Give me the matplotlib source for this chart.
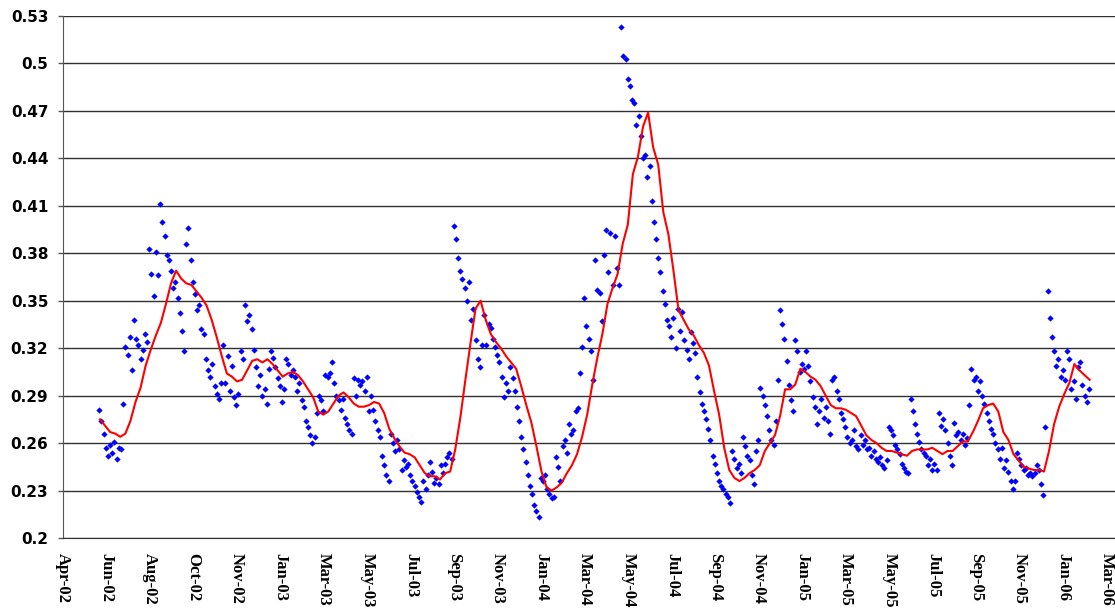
import pandas as pd
import matplotlib
matplotlib.use("Agg")
import matplotlib.pyplot as plt
import matplotlib.dates as mdates

# observations every 3 days, starting 24 May 2002
obs_start = "2002-05-24"
obs_values = [
    0.281, 0.274, 0.266, 0.257, 0.252, 0.259, 0.254, 0.261, 0.250, 0.257,
    0.256, 0.285, 0.321, 0.316, 0.327, 0.306, 0.338, 0.326, 0.322, 0.313,
    0.319, 0.329, 0.324, 0.383, 0.367, 0.353, 0.381, 0.366, 0.411, 0.400,
    0.391, 0.379, 0.376, 0.369, 0.358, 0.362, 0.352, 0.342, 0.331, 0.318,
    0.386, 0.396, 0.376, 0.362, 0.354, 0.344, 0.347, 0.332, 0.329, 0.313,
    0.306, 0.302, 0.310, 0.296, 0.291, 0.288, 0.298, 0.322, 0.298, 0.315,
    0.293, 0.309, 0.289, 0.284, 0.291, 0.318, 0.313, 0.347, 0.337, 0.341,
    0.332, 0.319, 0.308, 0.296, 0.303, 0.290, 0.294, 0.285, 0.307, 0.318,
    0.314, 0.308, 0.301, 0.296, 0.286, 0.294, 0.313, 0.310, 0.303, 0.306,
    0.302, 0.293, 0.298, 0.287, 0.283, 0.274, 0.270, 0.265, 0.260, 0.264,
    0.279, 0.290, 0.287, 0.280, 0.303, 0.302, 0.304, 0.311, 0.298, 0.290,
    0.287, 0.281, 0.288, 0.276, 0.272, 0.268, 0.266, 0.301, 0.290, 0.300,
    0.297, 0.299, 0.293, 0.302, 0.280, 0.290, 0.281, 0.274, 0.268, 0.264,
    0.252, 0.246, 0.240, 0.236, 0.266, 0.260, 0.255, 0.262, 0.256, 0.243,
    0.249, 0.245, 0.247, 0.240, 0.236, 0.233, 0.229, 0.226, 0.223, 0.236,
    0.231, 0.240, 0.248, 0.242, 0.235, 0.238, 0.234, 0.246, 0.241, 0.247,
    0.251, 0.254, 0.250, 0.397, 0.389, 0.377, 0.369, 0.364, 0.358, 0.350,
    0.362, 0.338, 0.345, 0.325, 0.313, 0.308, 0.322, 0.341, 0.322, 0.335,
    0.333, 0.326, 0.321, 0.316, 0.311, 0.302, 0.289, 0.298, 0.293, 0.308,
    0.301, 0.293, 0.283, 0.274, 0.264, 0.256, 0.248, 0.240, 0.233, 0.228,
    0.221, 0.217, 0.213, 0.238, 0.236, 0.240, 0.231, 0.228, 0.225, 0.226,
    0.251, 0.245, 0.236, 0.258, 0.262, 0.254, 0.272, 0.266, 0.268, 0.280,
    0.282, 0.304, 0.321, 0.352, 0.334, 0.326, 0.318, 0.300, 0.376, 0.357,
    0.355, 0.337, 0.379, 0.395, 0.368, 0.393, 0.360, 0.391, 0.371, 0.360,
    0.523, 0.505, 0.503, 0.490, 0.486, 0.477, 0.475, 0.461, 0.467, 0.454,
    0.440, 0.442, 0.428, 0.435, 0.413, 0.400, 0.389, 0.377, 0.368, 0.356,
    0.348, 0.338, 0.334, 0.327, 0.339, 0.320, 0.345, 0.331, 0.343, 0.325,
    0.319, 0.313, 0.330, 0.323, 0.317, 0.302, 0.292, 0.285, 0.280, 0.275,
    0.269, 0.262, 0.252, 0.247, 0.241, 0.236, 0.233, 0.231, 0.228, 0.226,
    0.222, 0.255, 0.250, 0.244, 0.247, 0.241, 0.264, 0.258, 0.252, 0.249,
    0.240, 0.234, 0.255, 0.262, 0.295, 0.290, 0.284, 0.277, 0.268, 0.262,
    0.259, 0.274, 0.300, 0.344, 0.335, 0.326, 0.312, 0.297, 0.287, 0.280,
    0.325, 0.318, 0.305, 0.310, 0.307, 0.318, 0.309, 0.299, 0.289, 0.283,
    0.272, 0.280, 0.288, 0.276, 0.283, 0.274, 0.266, 0.300, 0.302, 0.293,
    0.288, 0.279, 0.275, 0.270, 0.264, 0.260, 0.262, 0.268, 0.258, 0.256,
    0.265, 0.259, 0.262, 0.256, 0.257, 0.252, 0.255, 0.250, 0.248, 0.251,
    0.246, 0.244, 0.249, 0.270, 0.268, 0.265, 0.259, 0.256, 0.253, 0.247,
    0.244, 0.242, 0.241, 0.288, 0.280, 0.272, 0.266, 0.261, 0.256, 0.254,
    0.252, 0.246, 0.250, 0.243, 0.247, 0.243, 0.279, 0.271, 0.275, 0.268,
    0.260, 0.252, 0.246, 0.273, 0.265, 0.267, 0.262, 0.266, 0.259, 0.263,
    0.284, 0.307, 0.300, 0.302, 0.293, 0.299, 0.290, 0.285, 0.279, 0.274,
    0.269, 0.266, 0.260, 0.256, 0.250, 0.257, 0.244, 0.249, 0.242, 0.236,
    0.231, 0.236, 0.254, 0.250, 0.246, 0.243, 0.244, 0.240, 0.241, 0.239,
    0.241, 0.246, 0.243, 0.234, 0.227, 0.270, 0.356, 0.339, 0.327, 0.318,
    0.309, 0.313, 0.302, 0.306, 0.300, 0.318, 0.313, 0.294, 0.299, 0.288,
    0.308, 0.311, 0.297, 0.290, 0.286, 0.294,
]

# smoothed trend, weekly from 25 May 2002
trend_start = "2002-05-25"
trend_values = [
    0.275, 0.271, 0.267, 0.266, 0.264, 0.266, 0.274, 0.286, 0.295, 0.309,
    0.319, 0.328, 0.336, 0.348, 0.361, 0.369, 0.364, 0.361, 0.360, 0.356,
    0.352, 0.347, 0.338, 0.327, 0.315, 0.304, 0.302, 0.299, 0.300, 0.306,
    0.312, 0.313, 0.311, 0.313, 0.310, 0.306, 0.302, 0.304, 0.305, 0.303,
    0.299, 0.294, 0.289, 0.280, 0.278, 0.280, 0.285, 0.290, 0.292, 0.289,
    0.285, 0.283, 0.283, 0.284, 0.286, 0.285, 0.279, 0.269, 0.263, 0.258,
    0.254, 0.253, 0.251, 0.246, 0.241, 0.239, 0.239, 0.237, 0.241, 0.242,
    0.256, 0.276, 0.300, 0.323, 0.345, 0.350, 0.338, 0.329, 0.324, 0.320,
    0.315, 0.311, 0.307, 0.296, 0.284, 0.273, 0.258, 0.242, 0.232, 0.230,
    0.232, 0.235, 0.241, 0.246, 0.253, 0.264, 0.278, 0.297, 0.314, 0.329,
    0.348, 0.358, 0.367, 0.386, 0.398, 0.430, 0.441, 0.460, 0.469, 0.447,
    0.436, 0.406, 0.392, 0.369, 0.344, 0.338, 0.332, 0.328, 0.322, 0.317,
    0.309, 0.293, 0.278, 0.257, 0.243, 0.238, 0.236, 0.238, 0.241, 0.243,
    0.246, 0.255, 0.260, 0.265, 0.277, 0.294, 0.294, 0.297, 0.307, 0.305,
    0.302, 0.300, 0.296, 0.290, 0.284, 0.282, 0.282, 0.281, 0.279, 0.277,
    0.271, 0.265, 0.262, 0.260, 0.257, 0.255, 0.255, 0.254, 0.253, 0.252,
    0.255, 0.256, 0.256, 0.256, 0.257, 0.255, 0.253, 0.255, 0.255, 0.258,
    0.261, 0.261, 0.267, 0.274, 0.282, 0.284, 0.285, 0.280, 0.267, 0.262,
    0.253, 0.249, 0.245, 0.244, 0.243, 0.243, 0.242, 0.255, 0.272, 0.283,
    0.291, 0.298, 0.310, 0.306, 0.303, 0.300,
]

axis_start = pd.Timestamp("2002-04-04")
axis_end = axis_start + pd.Timedelta(days=1451)
x_ticks = [axis_start + pd.Timedelta(days=60 * k) for k in range(25)]
y_ticks = [0.2, 0.23, 0.26, 0.29, 0.32, 0.35, 0.38, 0.41, 0.44, 0.47, 0.5, 0.53]

obs_dates = pd.date_range(obs_start, periods=len(obs_values), freq="3D")
trend_dates = pd.date_range(trend_start, periods=len(trend_values), freq="7D")

W, H = 1115, 611
fig = plt.figure(figsize=(W / 100, H / 100), dpi=100)
ax = fig.add_axes([63 / W, 1 - 538 / H, 1 - 63 / W, (538 - 16) / H])

ax.plot(obs_dates, obs_values, linestyle="none", marker="D", ms=3.2, mew=0,
        color="#0000ff", zorder=3)
ax.plot(trend_dates, trend_values, color="#ff0000", lw=1.5, zorder=4)

ax.set_xlim(axis_start, axis_end)
ax.set_ylim(0.2, 0.53)
ax.set_xticks(x_ticks)
ax.xaxis.set_major_formatter(mdates.DateFormatter("%b-%y"))
ax.set_yticks(y_ticks)
ax.set_yticklabels([f"{v:g}" for v in y_ticks])

ax.tick_params(axis="x", length=0, pad=11, labelrotation=-90)
ax.tick_params(axis="y", length=3.6, width=1, color="#555555", pad=7)
for lab in ax.get_xticklabels():
    lab.set_fontfamily("Liberation Serif")
    lab.set_fontweight("bold")
    lab.set_fontsize(12)
for lab in ax.get_yticklabels():
    lab.set_fontfamily("DejaVu Sans")
    lab.set_fontweight("bold")
    lab.set_fontsize(11)

ax.yaxis.grid(True, color="#303030", lw=1.0)
ax.set_axisbelow(True)
for side in ("top", "right"):
    ax.spines[side].set_visible(False)
ax.spines["left"].set_color("#555555")
ax.spines["bottom"].set_color("#303030")

fig.savefig("out.png", dpi=100)
